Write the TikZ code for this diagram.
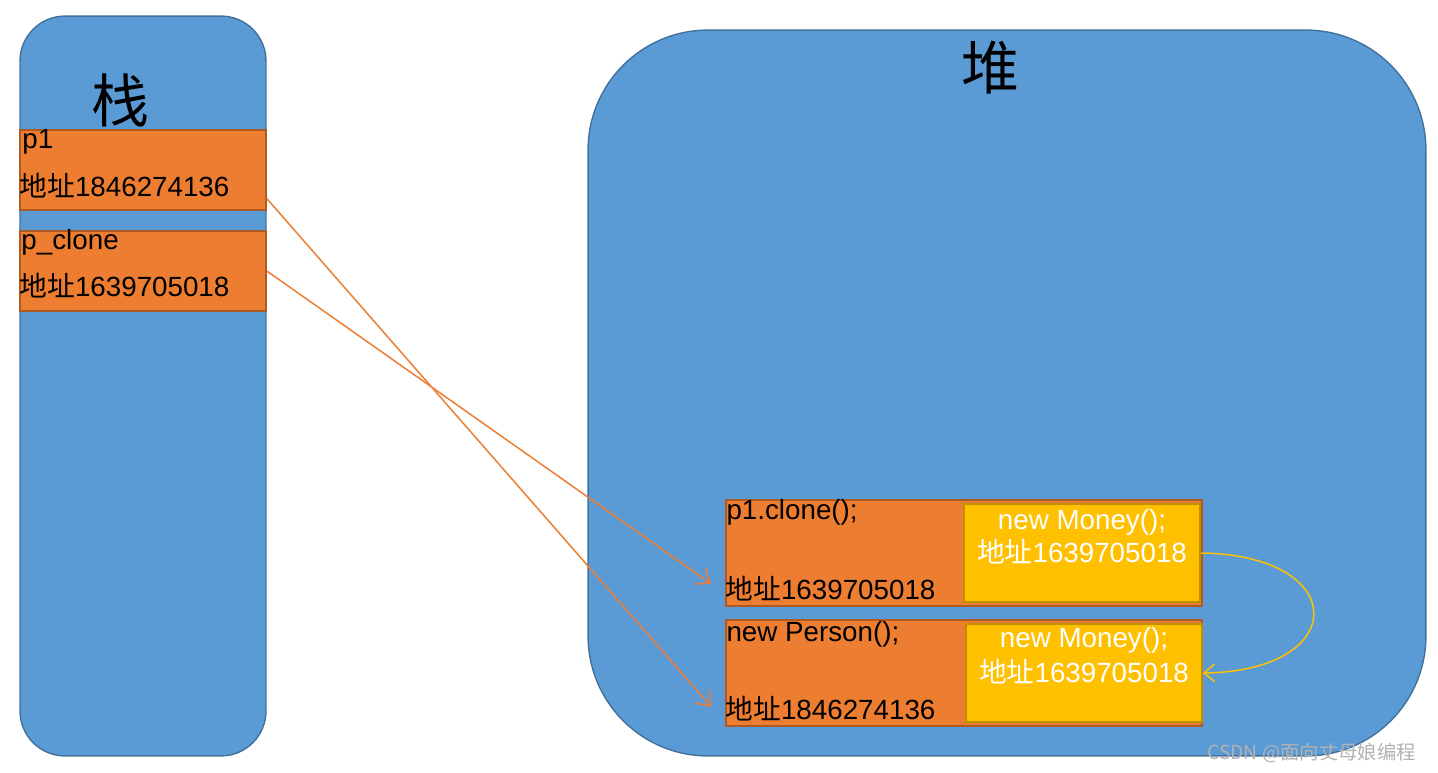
\documentclass[tikz,border=0pt]{standalone}
\usepackage{fontspec}
\setmainfont{Liberation Sans}
\newfontfamily\cjk{Noto Sans CJK SC}
\usetikzlibrary{calc,arrows.meta}

\definecolor{memblue}{HTML}{5B9BD5}
\definecolor{memline}{HTML}{41719C}
\definecolor{slotfill}{HTML}{ED7D31}
\definecolor{slotline}{HTML}{AE5A21}
\definecolor{moneyfill}{HTML}{FFC000}
\definecolor{moneyline}{HTML}{BF9000}

\newcommand{\addr}[1]{{\cjk 地址}#1}

\tikzset{
  region/.style={draw=memline,fill=memblue,line width=0.8pt},
  slot/.style={draw=slotline,fill=slotfill,line width=1pt,inner sep=0pt},
  moneybox/.style={draw=moneyline,fill=moneyfill,line width=1pt,inner sep=0pt,
    minimum width=4.72cm,minimum height=1.96cm},
  txt/.style={inner sep=0pt,font=\fontsize{15.8}{18}\selectfont},
  link/.style={draw=slotfill,line width=0.85pt,-{Straight Barb[length=7pt,width=11pt]}},
}

\begin{document}
\begin{tikzpicture}[x=0.02cm,y=-0.02cm]
  \useasboundingbox (0,0) rectangle (1438,772);

  % Stack
  \node[region,rounded corners=0.9cm,minimum width=4.92cm,minimum height=14.8cm] (stack) at (143,386) {};
  \node (stacktitle) at (120,100) {\cjk\fontsize{33}{36}\selectfont 栈};
  \node[slot,minimum width=4.92cm,minimum height=1.6cm] (p1) at (143,170) {};
  \node[slot,minimum width=4.92cm,minimum height=1.6cm] (pclone) at (143,271) {};
  \node[txt,anchor=base west] (p1name) at ($(p1.north west)+(3,19)$) {p1};
  \node[txt,anchor=base west] (p1addr) at ($(p1.north west)+(0,67)$) {\addr{1846274136}};
  \node[txt,anchor=base west] (pclonename) at ($(pclone.north west)+(2,19)$) {p\_clone};
  \node[txt,anchor=base west] (pcloneaddr) at ($(pclone.north west)+(0,66)$) {\addr{1639705018}};

  % Heap
  \node[region,rounded corners=2.4cm,minimum width=16.76cm,minimum height=14.52cm] (heap) at (1007,393) {};
  \node (heaptitle) at (990,68) {\cjk\fontsize{33}{36}\selectfont 堆};

  % Objects
  \node[slot,minimum width=9.52cm,minimum height=2.12cm] (clone) at (964,553) {};
  \node[slot,minimum width=9.52cm,minimum height=2.12cm] (person) at (964,673) {};
  \node[txt,anchor=base west] (clonename) at ($(clone.north west)+(1,20)$) {p1.clone();};
  \node[txt,anchor=base west] (cloneaddr) at ($(clone.north west)+(0,100)$) {\addr{1639705018}};
  \node[txt,anchor=base west] (personname) at ($(person.north west)+(1,22)$) {new Person();};
  \node[txt,anchor=base west] (personaddr) at ($(person.north west)+(0,100)$) {\addr{1846274136}};

  % Money
  \node[moneybox] (money1) at (1082,553) {};
  \node[moneybox] (money2) at (1084,673) {};
  \node[txt,text=white,anchor=base] (money1new) at ($(money1.north)+(0,26)$) {new Money();};
  \node[txt,text=white,anchor=base] (money1addr) at ($(money1.north)+(0,59)$) {\addr{1639705018}};
  \node[txt,text=white,anchor=base] (money2new) at ($(money2.north)+(0,24)$) {new Money();};
  \node[txt,text=white,anchor=base] (money2addr) at ($(money2.north)+(0,59)$) {\addr{1639705018}};

  % References
  \draw[link] ($(p1.south east)!0.15!(p1.north east)$) -- ($(person.south west)+(-14,-20)$);
  \draw[link] (pclone.east) -- ($(clone.south west)+(-14,-23)$);
  \draw[draw=moneyfill,line width=0.85pt,-{Straight Barb[length=6pt,width=10pt]}]
    (money1.east) .. controls +(150,2) and +(148,-2) .. (money2.east);

  % Watermark
  \node[anchor=base east,text=black!30,font=\cjk\fontsize{11}{13}\selectfont] (mark) at (1422,759) {CSDN @面向丈母娘编程};
\end{tikzpicture}
\end{document}
